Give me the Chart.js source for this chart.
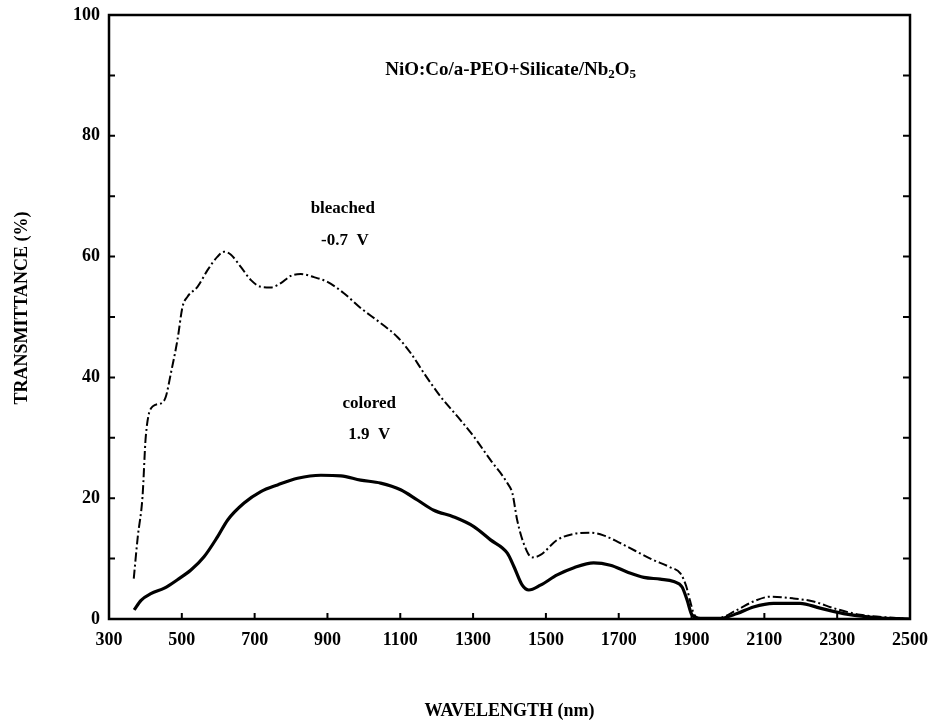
<!DOCTYPE html>
<html>
<head>
<meta charset="utf-8">
<script src="https://cdn.jsdelivr.net/npm/chart.js@4.4.1/dist/chart.umd.min.js"></script>
<style>
  html, body { margin: 0; padding: 0; background: #fff; }
  #wrap { width: 929px; height: 726px; position: relative; }
</style>
</head>
<body>
<div id="wrap"><canvas id="c"></canvas></div>
<script>
// wavelength (nm) / transmittance (%)
const bleachedWl = [368, 379, 392, 401, 420, 443, 456, 470, 488, 502, 516, 543, 571, 598, 616, 635, 662, 690, 717, 744, 772, 799, 827, 863, 900, 946, 991, 1046, 1092, 1129, 1165, 1211, 1266, 1302, 1348, 1394, 1408, 1421, 1439, 1462, 1485, 1531, 1577, 1622, 1660, 1700, 1745, 1790, 1840, 1870, 1885, 1896, 1906, 1924, 1970, 2025, 2070, 2116, 2180, 2235, 2290, 2363, 2455, 2500];
const bleachedT = [6.7, 13.6, 20.2, 30.2, 35.2, 35.7, 36.8, 40.7, 46.2, 51.7, 53.4, 55.0, 57.8, 60.0, 60.8, 60.3, 58.3, 56.1, 55.0, 54.9, 55.6, 56.8, 57.1, 56.6, 55.8, 53.9, 51.5, 49.0, 46.7, 44.0, 40.7, 36.8, 32.9, 30.2, 26.3, 22.5, 20.8, 16.4, 12.5, 10.2, 10.6, 13.1, 14.1, 14.3, 13.8, 12.7, 11.3, 9.9, 8.6, 7.5, 5.5, 3.0, 0.9, 0.1, 0.1, 1.5, 2.9, 3.7, 3.4, 2.9, 1.8, 0.7, 0.2, 0];

const coloredWl = [369, 388, 415, 452, 488, 525, 561, 598, 626, 671, 717, 763, 818, 882, 937, 991, 1046, 1101, 1147, 1192, 1247, 1302, 1348, 1394, 1412, 1435, 1453, 1485, 1531, 1577, 1631, 1677, 1723, 1769, 1814, 1851, 1874, 1888, 1901, 1924, 1979, 2025, 2070, 2125, 2198, 2253, 2317, 2409, 2500];
const coloredT = [1.5, 3.1, 4.2, 5.1, 6.5, 8.1, 10.3, 13.6, 16.4, 19.2, 21.1, 22.2, 23.3, 23.8, 23.7, 23.0, 22.5, 21.4, 19.7, 18.0, 16.9, 15.3, 13.1, 10.9, 8.7, 5.6, 4.8, 5.6, 7.3, 8.5, 9.3, 8.9, 7.8, 6.9, 6.6, 6.2, 5.3, 3.1, 0.7, 0.1, 0.1, 0.9, 2.0, 2.6, 2.6, 1.8, 0.9, 0.2, 0];

const xTicks = [300, 500, 700, 900, 1100, 1300, 1500, 1700, 1900, 2100, 2300, 2500];
const yTicks = [0, 20, 40, 60, 80, 100];

// text labels placed in data units
const notes = [
  { text: 'bleached', wl: 942, t: 67.9 },
  { text: '-0.7  V', wl: 948, t: 62.7 },
  { text: 'colored', wl: 1015, t: 35.6 },
  { text: '1.9  V', wl: 1015, t: 30.6 }
];
const sampleTitle = { wl: 1403, t: 90.9 };

const serif = '"Liberation Serif", "DejaVu Serif", serif';

function toPoints(xs, ys) {
  return xs.map((x, i) => ({ x: x, y: ys[i] }));
}

// frame, inward ticks and the text in the plot
const framePlugin = {
  id: 'frame',
  afterDraw(chart) {
    const { ctx, chartArea: a, scales: { x, y } } = chart;
    ctx.save();
    ctx.strokeStyle = '#000';
    ctx.lineWidth = 2.5;
    ctx.strokeRect(a.left, a.top, a.right - a.left, a.bottom - a.top);

    ctx.lineWidth = 2;
    ctx.beginPath();
    for (let v = 10; v < 100; v += 10) {
      const py = y.getPixelForValue(v);
      ctx.moveTo(a.left, py); ctx.lineTo(a.left + 6, py);
      ctx.moveTo(a.right, py); ctx.lineTo(a.right - 7, py);
    }
    xTicks.slice(1, -1).forEach(v => {
      const px = x.getPixelForValue(v);
      ctx.moveTo(px, a.bottom); ctx.lineTo(px, a.bottom - 6);
    });
    ctx.stroke();

    ctx.fillStyle = '#000';
    ctx.textAlign = 'center';
    ctx.textBaseline = 'middle';
    ctx.font = 'bold 17px ' + serif;
    notes.forEach(n => {
      ctx.fillText(n.text, x.getPixelForValue(n.wl), y.getPixelForValue(n.t));
    });

    // y axis title
    ctx.save();
    ctx.translate(22, 308);
    ctx.rotate(-Math.PI / 2);
    ctx.font = 'bold 18px ' + serif;
    ctx.fillText('TRANSMITTANCE (%)', 0, 0);
    ctx.restore();

    // NiO:Co/a-PEO+Silicate/Nb2O5 with subscripts
    const parts = [
      ['NiO:Co/a-PEO+Silicate/Nb', false],
      ['2', true],
      ['O', false],
      ['5', true]
    ];
    const big = 'bold 19px ' + serif;
    const small = 'bold 13px ' + serif;
    let w = 0;
    parts.forEach(p => { ctx.font = p[1] ? small : big; w += ctx.measureText(p[0]).width; });
    let cx = x.getPixelForValue(sampleTitle.wl) - w / 2;
    const cy = y.getPixelForValue(sampleTitle.t);
    ctx.textAlign = 'left';
    parts.forEach(p => {
      ctx.font = p[1] ? small : big;
      ctx.fillText(p[0], cx, p[1] ? cy + 5 : cy);
      cx += ctx.measureText(p[0]).width;
    });
    ctx.restore();
  }
};

new Chart(document.getElementById('c'), {
  type: 'line',
  data: {
    datasets: [
      {
        label: 'bleached -0.7 V',
        data: toPoints(bleachedWl, bleachedT),
        borderColor: '#000',
        borderWidth: 2,
        borderDash: [9, 3, 2, 3],
        pointRadius: 0,
        cubicInterpolationMode: 'monotone',
        fill: false
      },
      {
        label: 'colored 1.9 V',
        data: toPoints(coloredWl, coloredT),
        borderColor: '#000',
        borderWidth: 3.2,
        pointRadius: 0,
        cubicInterpolationMode: 'monotone',
        fill: false
      }
    ]
  },
  options: {
    responsive: true,
    maintainAspectRatio: false,
    animation: false,
    layout: { padding: { top: 15, right: 19, left: 0, bottom: 0 } },
    plugins: {
      legend: { display: false },
      tooltip: { enabled: false }
    },
    scales: {
      x: {
        type: 'linear',
        min: 300,
        max: 2500,
        afterFit: s => { s.height = 107; s.paddingLeft = 0; s.paddingRight = 0; },
        afterBuildTicks: s => { s.ticks = xTicks.map(v => ({ value: v })); },
        grid: { display: false, drawTicks: false },
        border: { display: false },
        ticks: {
          color: '#000',
          padding: 11,
          maxRotation: 0,
          autoSkip: false,
          callback: v => String(v),
          font: { family: serif, size: 18, weight: 'bold' }
        },
        title: {
          display: true,
          text: 'WAVELENGTH (nm)',
          color: '#000',
          padding: { top: 0, bottom: 4 },
          font: { family: serif, size: 18, weight: 'bold' }
        }
      },
      y: {
        min: 0,
        max: 100,
        afterFit: s => { s.width = 109; s.paddingTop = 0; s.paddingBottom = 0; },
        afterBuildTicks: s => { s.ticks = yTicks.map(v => ({ value: v })); },
        grid: { display: false, drawTicks: false },
        border: { display: false },
        ticks: {
          color: '#000',
          padding: 9,
          callback: v => String(v),
          font: { family: serif, size: 18, weight: 'bold' }
        }
      }
    }
  },
  plugins: [framePlugin]
});
</script>
</body>
</html>
